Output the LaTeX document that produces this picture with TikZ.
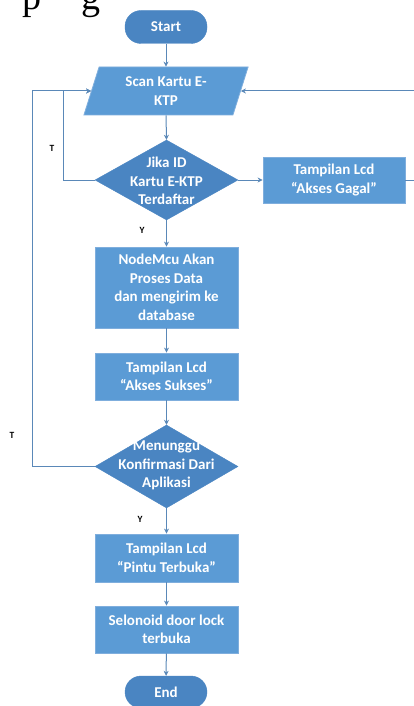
\documentclass[tikz,border=0pt]{standalone}
\usepackage{fontspec}
\setmainfont{Carlito}
\newfontfamily\serifdoc{Liberation Serif}
\usetikzlibrary{shapes.geometric,arrows.meta}
\definecolor{boxblue}{HTML}{5B9BD5}
\definecolor{darkblue}{HTML}{4A85C2}
\definecolor{edgeblue}{HTML}{7FAEDD}
\definecolor{lineblue}{HTML}{5A88B8}
\begin{document}
\begin{tikzpicture}[x=1pt,y=-1pt,
  txt/.style={text=white,font=\fontsize{15}{18.5}\bfseries\selectfont,align=center},
  procbox/.style={rectangle,fill=boxblue,draw=edgeblue,line width=0.8pt,minimum width=143pt,txt,inner sep=0pt},
  termbox/.style={rectangle,rounded corners=16pt,fill=darkblue,draw=darkblue,minimum width=82pt,minimum height=33pt,txt,inner sep=0pt},
  decbox/.style={diamond,fill=darkblue,draw=darkblue,minimum width=143pt,inner sep=0pt},
  iobox/.style={trapezium,trapezium left angle=72,trapezium right angle=108,trapezium stretches=true,fill=boxblue,draw=edgeblue,line width=0.8pt,minimum width=165pt,minimum height=48pt,inner sep=0pt,txt},
  flow/.style={draw=lineblue,line width=1pt,-{Stealth[length=5pt,width=5pt]}},
  yt/.style={font=\fontsize{9.5}{10}\bfseries\selectfont,text=black,inner sep=0pt}]
\useasboundingbox[fill=white] (0,0) rectangle (414,706);

% fragments of page text above the figure
\node[font=\serifdoc\fontsize{38}{38}\selectfont,anchor=base west,inner sep=0pt] (frag1) at (22,10) {p};
\node[font=\serifdoc\fontsize{38}{38}\selectfont,anchor=base west,inner sep=0pt] (frag2) at (81,10) {g};

\node[termbox] (start) at (166,27) {Start};
\node[iobox] (scan) at (166,91) {Scan Kartu E-\\KTP};
\node[decbox,minimum height=80pt] (jika) at (166.5,180) {};
\node[txt] (jikat) at (166.5,181) {Jika ID\\Kartu E-KTP\\Terdaftar};
\node[procbox,minimum width=142pt,minimum height=46pt] (gagal) at (334,180) {Tampilan Lcd\\“Akses Gagal”};
\node[procbox,minimum height=81pt] (nodemcu) at (166.5,287.5) {NodeMcu Akan\\Proses Data\\dan mengirim ke\\database};
\node[procbox,minimum height=47pt] (sukses) at (166.5,376.5) {Tampilan Lcd\\“Akses Sukses”};
\node[decbox,minimum height=83pt] (tunggu) at (166.5,466.5) {};
\node[txt] (tunggut) at (166.5,465.5) {Menunggu\\Konfirmasi Dari\\Aplikasi};
\node[procbox,minimum height=48pt] (pintu) at (166.5,558) {Tampilan Lcd\\“Pintu Terbuka”};
\node[procbox,minimum height=47pt] (selo) at (166.5,629.5) {Selonoid door lock\\terbuka};
\node[termbox,minimum height=32pt] (end) at (166,692) {End};

\node[yt] (t1) at (52,148) {T};
\node[yt] (y1) at (142,230) {Y};
\node[yt] (t2) at (12,435) {T};
\node[yt] (y2) at (140,519) {Y};

\draw[flow] (start) -- (scan);
\draw[flow] (scan.south) -- (jika.north);
\draw[flow] (jika.south) -- (nodemcu.north);
\draw[flow] (nodemcu) -- (sukses);
\draw[flow] (sukses.south) -- (tunggu.north);
\draw[flow] (tunggu.south) -- (pintu.north);
\draw[flow] (pintu) -- (selo);
\draw[flow] (selo) -- (end);
\draw[flow] (jika.east) -- (gagal.west);

\coordinate (ri) at (422,180);
\draw[flow] (gagal.east) -- (ri) |- (scan.east);
\coordinate (li) at (63,180);
\draw[flow] (jika.west) -- (li) |- (scan.west);
\coordinate (lo) at (32,466.5);
\draw[flow] (tunggu.west) -- (lo) |- (scan.west);
\end{tikzpicture}
\end{document}
